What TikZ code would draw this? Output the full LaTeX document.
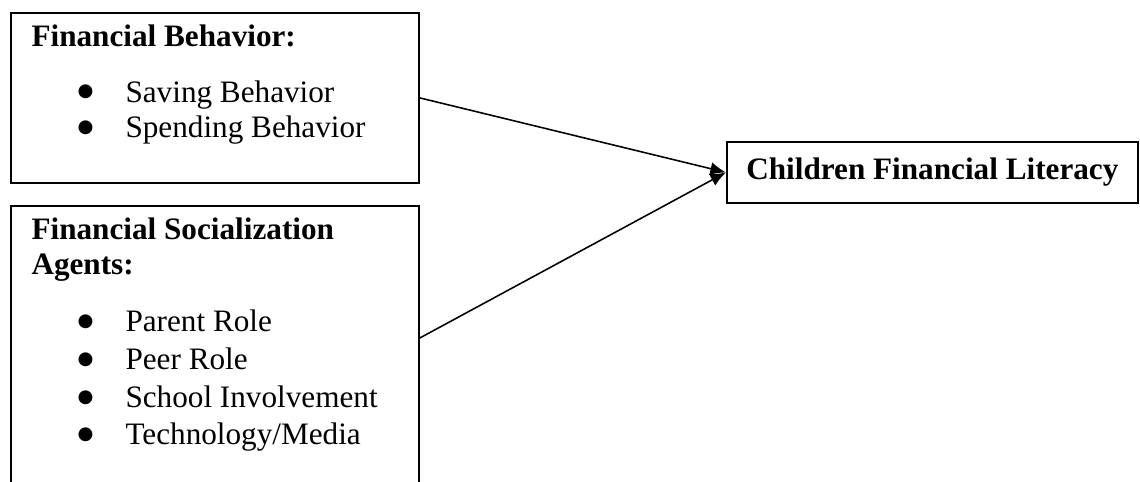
\documentclass[tikz,border=0pt]{standalone}
\usepackage{fontspec}
\setmainfont{Liberation Serif}
\newfontfamily\dotfont{DejaVu Sans}
\usetikzlibrary{arrows.meta}
\newcommand{\bulletitem}[1]{\makebox[4.23pt][c]{\raisebox{2pt}{\dotfont\fontsize{7pt}{8pt}\selectfont ●}}\hspace{13.27pt}#1}

\begin{document}
\begin{tikzpicture}[font=\fontsize{12pt}{14pt}\selectfont,
  box/.style={draw, line width=0.7pt, inner sep=0pt, anchor=north west},
  head/.style={anchor=base west, inner sep=0pt, font=\fontsize{12pt}{14pt}\selectfont\bfseries},
  entry/.style={anchor=base west, inner sep=0pt}]
\useasboundingbox (0,0) rectangle (15.41,6.515);
\clip (0,0) rectangle (15.41,6.515);
% boxes
\node at (0.135,6.353) [box, minimum width=5.515cm, minimum height=2.298cm](fb){};
\node at (0.135,3.744) [box, minimum width=5.515cm, minimum height=4.5cm](fsa){};
\node at (9.813,4.609) [box, minimum width=5.556cm, minimum height=0.824cm, font=\fontsize{12pt}{14pt}\selectfont\bfseries](cfl){Children Financial Literacy};
% first box text
\node at (0.419,5.893) [head](fbhead){Financial Behavior:};
\node at (1.075,5.136) [entry](saving){\bulletitem{Saving Behavior}};
\node at (1.075,4.650) [entry](spending){\bulletitem{Spending Behavior}};
% second box text
\node at (0.419,3.271) [head](fsahead){Financial Socialization};
\node at (0.419,2.798) [head](agents){Agents:};
\node at (1.075,2.028) [entry](parent){\bulletitem{Parent Role}};
\node at (1.075,1.514) [entry](peer){\bulletitem{Peer Role}};
\node at (1.075,1.000) [entry](school){\bulletitem{School Involvement}};
\node at (1.075,0.500) [entry](media){\bulletitem{Technology/Media}};
% arrows into the outcome
\draw[-{Latex[length=6pt,width=5pt]}, line width=0.6pt] (fb.east) -- (cfl.west);
\draw[-{Latex[length=6pt,width=5pt]}, line width=0.6pt] ([yshift=-1.798cm]fsa.north east) -- (cfl.west);
\end{tikzpicture}
\end{document}
